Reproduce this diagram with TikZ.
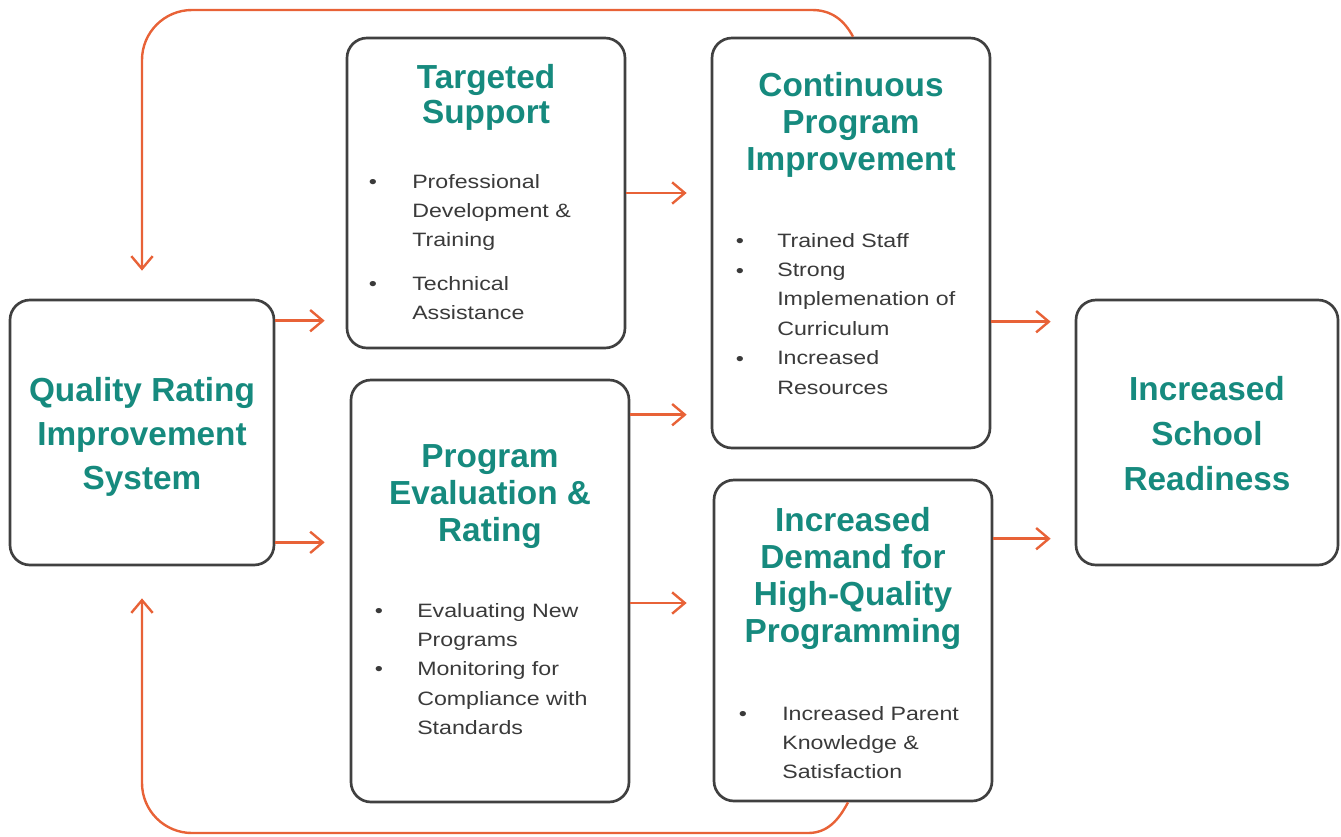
\documentclass[tikz,border=0pt]{standalone}
\usepackage{fontspec}
\setmainfont{Liberation Sans}
\newfontfamily\bodyfont[FakeStretch=1.2]{Liberation Sans}
\usetikzlibrary{arrows.meta}
\definecolor{tealc}{RGB}{22,138,126}
\definecolor{orng}{RGB}{232,98,55}
\definecolor{bord}{RGB}{64,64,64}
\definecolor{txt}{RGB}{58,58,58}
\newcommand\TL[2]{\fontsize{25}{#1}\selectfont\bfseries\begin{tabular}[t]{@{}c@{}}#2\end{tabular}}
\newcommand\BL[1]{\bodyfont\fontsize{14.5}{22.1}\selectfont\begin{tabular}[t]{@{}l@{}}#1\end{tabular}}
\tikzset{
  boxnode/.style={draw=bord, line width=2pt, rounded corners=15pt, inner sep=0pt, fill=white},
  ttl/.style={anchor=base, inner sep=0pt, text=tealc},
  bodytxt/.style={anchor=base west, inner sep=0pt, text=txt},
  bul/.style={anchor=base, inner sep=0pt, text=txt, font=\bodyfont\fontsize{14.5}{22.1}\selectfont},
  arr/.style={draw=orng, line width=1.8pt, -{Straight Barb[length=9.5pt,width=16pt,line width=1.8pt]}},
}
\begin{document}
\begin{tikzpicture}[x=0.75pt,y=-0.75pt]
\useasboundingbox (0,0) rectangle (1341,836);
% boxes
\node[boxnode, minimum width=198pt, minimum height=198.75pt] (qris) at (142,432.5) {};
\node[boxnode, minimum width=208.5pt, minimum height=232.5pt] (ts) at (486,193) {};
\node[boxnode, minimum width=208.5pt, minimum height=307.5pt] (cpi) at (851,243) {};
\node[boxnode, minimum width=208.5pt, minimum height=316.5pt] (pe) at (490,591) {};
\node[boxnode, minimum width=208.5pt, minimum height=240.75pt] (idhq) at (853,640.5) {};
\node[boxnode, minimum width=196.5pt, minimum height=198.75pt] (isr) at (1207,432.5) {};
% titles
\node[ttl] (qrisT) at (142,401) {\TL{33}{Quality Rating\\Improvement\\System}};
\node[ttl] (tsT) at (486,88) {\TL{26.5}{Targeted\\Support}};
\node[ttl] (cpiT) at (851,96) {\TL{27.75}{Continuous\\Program\\Improvement}};
\node[ttl] (peT) at (490,467) {\TL{28}{Program\\Evaluation \&\\Rating}};
\node[ttl] (idhqT) at (853,531) {\TL{27.75}{Increased\\Demand for\\High-Quality\\Programming}};
\node[ttl] (isrT) at (1207,400) {\TL{33.75}{Increased\\School\\Readiness}};
% bullets and body text
\node[bul] (tsB1) at (373,188) {\textbullet};
\node[bodytxt] (tsL1) at (412,188) {\BL{Professional\\Development \&\\Training}};
\node[bul] (tsB2) at (373,290) {\textbullet};
\node[bodytxt] (tsL2) at (412,290) {\BL{Technical\\Assistance}};
\node[bul] (cpiB1) at (740,247) {\textbullet};
\node[bul] (cpiB2) at (740,277) {\textbullet};
\node[bul] (cpiB3) at (740,365) {\textbullet};
\node[bodytxt] (cpiL) at (777,247) {\BL{Trained Staff\\Strong\\Implemenation of\\Curriculum\\Increased\\Resources}};
\node[bul] (peB1) at (379,617) {\textbullet};
\node[bul] (peB2) at (379,675) {\textbullet};
\node[bodytxt] (peL) at (417,617) {\BL{Evaluating New\\Programs\\Monitoring for\\Compliance with\\Standards}};
\node[bul] (idhqB1) at (743,720) {\textbullet};
\node[bodytxt] (idhqL) at (782,720) {\BL{Increased Parent\\Knowledge \&\\Satisfaction}};
% forward arrows
\draw[arr, shorten >=15.75pt] ([yshift=-16.5pt]qris.north east) -- ([yshift=-16.5pt]qris.north east -| ts.west);
\draw[arr, shorten >=18.75pt] ([yshift=18pt]qris.south east) -- ([yshift=18pt]qris.south east -| pe.west);
\draw[arr, shorten >=18pt] (ts.east) -- (ts.east -| cpi.west);
\draw[arr, shorten >=18pt] ([yshift=-27pt]pe.north east) -- ([yshift=-27pt]pe.north east -| cpi.west);
\draw[arr, shorten >=19.5pt] ([yshift=-9pt]pe.east) -- ([yshift=-9pt]pe.east -| idhq.west);
\draw[arr, shorten >=18pt] ([yshift=-213.75pt]cpi.north east) -- ([yshift=-213.75pt]cpi.north east -| isr.west);
\draw[arr, shorten >=18pt] ([yshift=-45pt]idhq.north east) -- ([yshift=-45pt]idhq.north east -| isr.west);
% feedback loops
\draw[arr, shorten >=21pt] ([xshift=1.5pt]cpi.north) to[out=118,in=0] (812,10) [rounded corners=37.5pt] -- (qris.north |- 0,10) -- (qris.north);
\draw[arr, shorten >=24pt] ([xshift=-3.75pt]idhq.south) to[out=-118,in=0] (808,833) [rounded corners=37.5pt] -- (qris.south |- 0,833) -- (qris.south);
\end{tikzpicture}
\end{document}
